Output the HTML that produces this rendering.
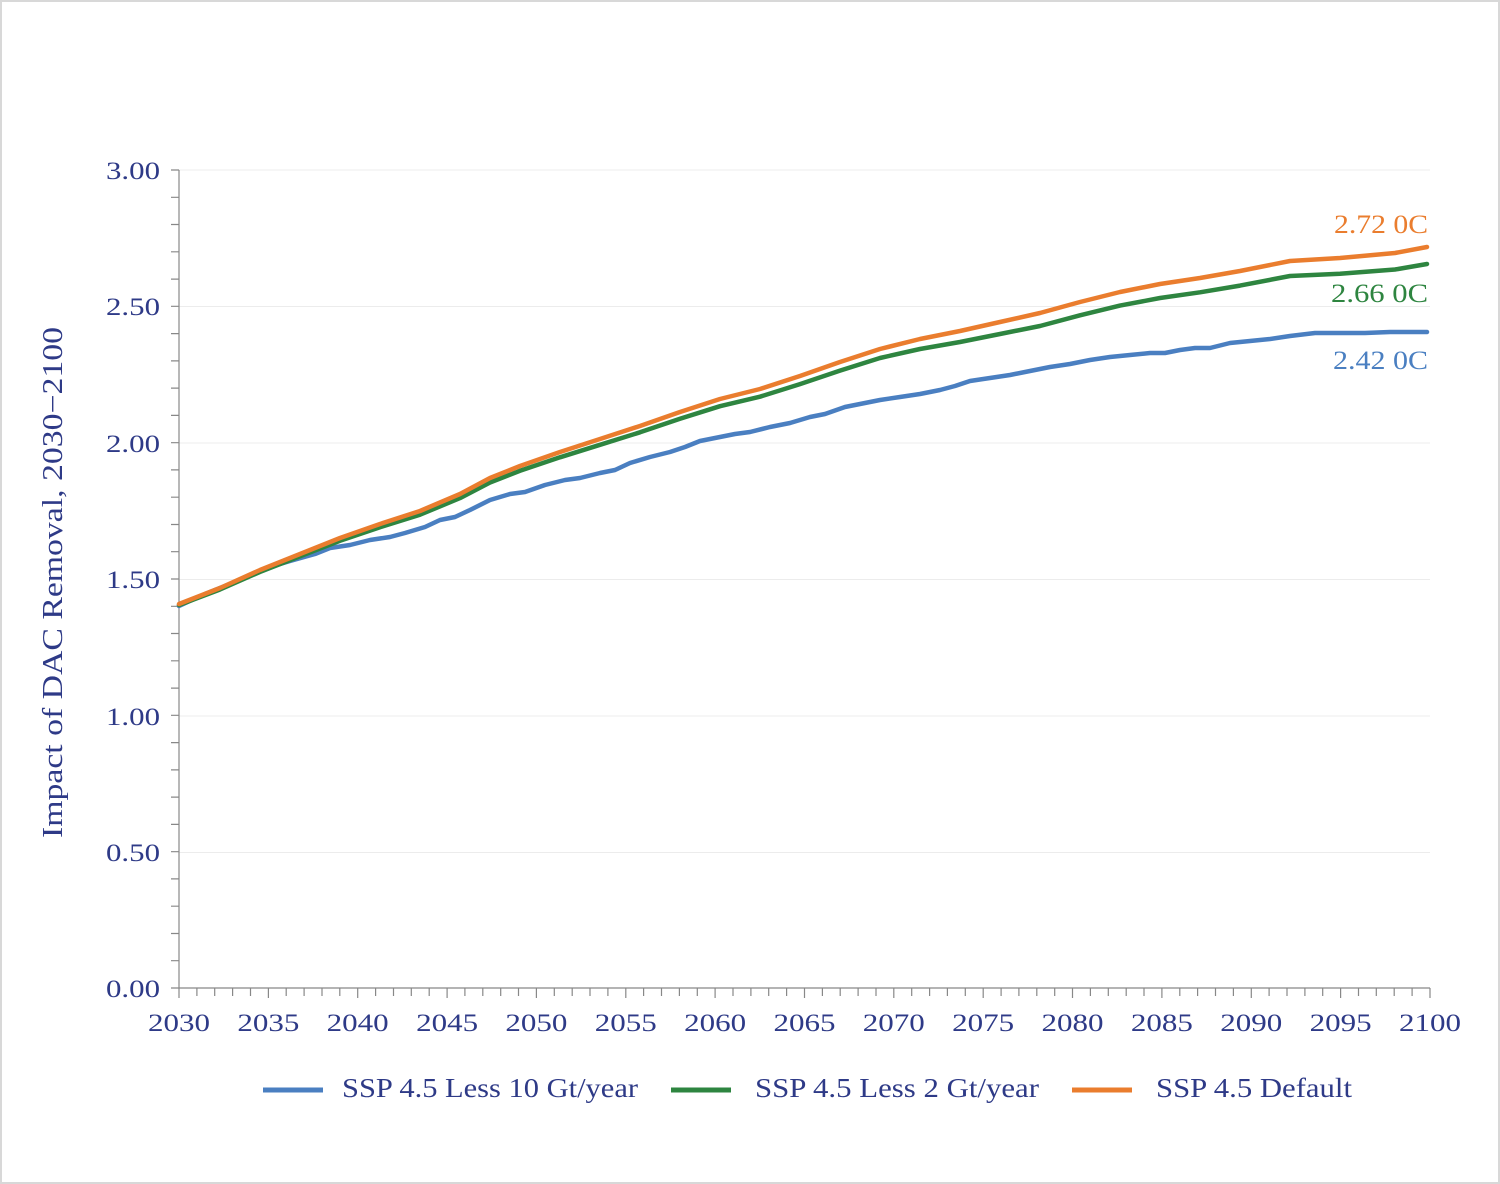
<!DOCTYPE html>
<html><head><meta charset="utf-8"><style>
html,body{margin:0;padding:0;background:#fff}
svg{display:block}
text{font-family:"Liberation Serif",serif}
</style></head><body>
<svg width="1500" height="1184" viewBox="0 0 1500 1184" xmlns="http://www.w3.org/2000/svg">
<rect x="1" y="1" width="1498" height="1182" fill="#fff" stroke="#d8d8d8" stroke-width="2"/>
<g stroke="#ececec" stroke-width="1">
<line x1="179" y1="170" x2="1430" y2="170"/><line x1="179" y1="306.5" x2="1430" y2="306.5"/>
<line x1="179" y1="443" x2="1430" y2="443"/><line x1="179" y1="579.5" x2="1430" y2="579.5"/>
<line x1="179" y1="716" x2="1430" y2="716"/><line x1="179" y1="852.5" x2="1430" y2="852.5"/>
</g>
<g stroke="#888" stroke-width="1.2" fill="none">
<path d="M179 170V988H1430"/>
<path d="M171 170h8M171 197.3h8M171 224.5h8M171 251.8h8M171 279.1h8M171 306.3h8M171 333.6h8M171 360.9h8M171 388.1h8M171 415.4h8M171 442.7h8M171 469.9h8M171 497.2h8M171 524.5h8M171 551.7h8M171 579h8M171 606.3h8M171 633.5h8M171 660.8h8M171 688.1h8M171 715.3h8M171 742.6h8M171 769.9h8M171 797.1h8M171 824.4h8M171 851.7h8M171 878.9h8M171 906.2h8M171 933.5h8M171 960.7h8M171 988h8"/>
<path d="M196.9 988v8M214.7 988v8M232.6 988v8M250.5 988v8M286.2 988v8M304.1 988v8M322 988v8M339.8 988v8M375.6 988v8M393.5 988v8M411.3 988v8M429.2 988v8M464.9 988v8M482.8 988v8M500.7 988v8M518.5 988v8M554.3 988v8M572.2 988v8M590 988v8M607.9 988v8M643.6 988v8M661.5 988v8M679.4 988v8M697.3 988v8M733 988v8M750.9 988v8M768.7 988v8M786.6 988v8M822.4 988v8M840.2 988v8M858.1 988v8M876 988v8M911.7 988v8M929.6 988v8M947.4 988v8M965.3 988v8M1001.1 988v8M1018.9 988v8M1036.8 988v8M1054.7 988v8M1090.4 988v8M1108.3 988v8M1126.2 988v8M1144 988v8M1179.8 988v8M1197.6 988v8M1215.5 988v8M1233.4 988v8M1269.1 988v8M1287 988v8M1304.9 988v8M1322.7 988v8M1358.5 988v8M1376.3 988v8M1394.2 988v8M1412.1 988v8"/>
<path d="M179 988v10M268.4 988v10M357.7 988v10M447.1 988v10M536.4 988v10M625.8 988v10M715.1 988v10M804.5 988v10M893.8 988v10M983.2 988v10M1072.5 988v10M1161.9 988v10M1251.3 988v10M1340.6 988v10M1430 988v10"/>
</g>
<g fill="#2e3a87" font-size="25" text-anchor="end">
<text x="160" y="179" textLength="54" lengthAdjust="spacingAndGlyphs">3.00</text><text x="160" y="315" textLength="54" lengthAdjust="spacingAndGlyphs">2.50</text><text x="160" y="452" textLength="54" lengthAdjust="spacingAndGlyphs">2.00</text>
<text x="160" y="588" textLength="54" lengthAdjust="spacingAndGlyphs">1.50</text><text x="160" y="725" textLength="54" lengthAdjust="spacingAndGlyphs">1.00</text><text x="160" y="861" textLength="54" lengthAdjust="spacingAndGlyphs">0.50</text><text x="160" y="997" textLength="54" lengthAdjust="spacingAndGlyphs">0.00</text>
</g>
<g fill="#2e3a87" font-size="25">
<text x="148" y="1031" textLength="62" lengthAdjust="spacingAndGlyphs">2030</text>
<text x="237.4" y="1031" textLength="62" lengthAdjust="spacingAndGlyphs">2035</text>
<text x="326.7" y="1031" textLength="62" lengthAdjust="spacingAndGlyphs">2040</text>
<text x="416.1" y="1031" textLength="62" lengthAdjust="spacingAndGlyphs">2045</text>
<text x="505.4" y="1031" textLength="62" lengthAdjust="spacingAndGlyphs">2050</text>
<text x="594.8" y="1031" textLength="62" lengthAdjust="spacingAndGlyphs">2055</text>
<text x="684.1" y="1031" textLength="62" lengthAdjust="spacingAndGlyphs">2060</text>
<text x="773.5" y="1031" textLength="62" lengthAdjust="spacingAndGlyphs">2065</text>
<text x="862.8" y="1031" textLength="62" lengthAdjust="spacingAndGlyphs">2070</text>
<text x="952.2" y="1031" textLength="62" lengthAdjust="spacingAndGlyphs">2075</text>
<text x="1041.5" y="1031" textLength="62" lengthAdjust="spacingAndGlyphs">2080</text>
<text x="1130.9" y="1031" textLength="62" lengthAdjust="spacingAndGlyphs">2085</text>
<text x="1220.3" y="1031" textLength="62" lengthAdjust="spacingAndGlyphs">2090</text>
<text x="1309.6" y="1031" textLength="62" lengthAdjust="spacingAndGlyphs">2095</text>
<text x="1399" y="1031" textLength="62" lengthAdjust="spacingAndGlyphs">2100</text>
</g>
<text transform="translate(62,838) rotate(-90)" fill="#2e3a87" font-size="28" textLength="511" lengthAdjust="spacingAndGlyphs">Impact of DAC Removal, 2030−2100</text>
<g fill="none" stroke-width="4.5" stroke-linejoin="round" stroke-linecap="round">
<polyline stroke="#4a7fc1" points="179,606 205,594 240,580 270,567 290,561 315,554 330,548 350,545 370,540 390,537 405,533 425,527 440,520 455,517 470,510 490,500 510,494 525,492 545,485 565,480 580,478 600,473 615,470 630,463 650,457 670,452 685,447 700,441 720,437 735,434 750,432 770,427 790,423 810,417 825,414 845,407 860,404 880,400 900,397 920,394 940,390 955,386 970,381 990,378 1010,375 1030,371 1050,367 1070,364 1090,360 1110,357 1130,355 1150,353 1165,353 1180,350 1195,348 1210,348 1230,343 1250,341 1270,339 1290,336 1315,333 1340,333 1365,333 1390,332 1427,332"/>
<polyline stroke="#2e8540" points="179,605 220,589.5 260,571.9 300,556.3 340,540.8 380,527.2 420,514.7 460,498.1 490,482.5 520,470.8 560,457.3 600,444.8 640,432.3 680,418.8 720,406.2 760,396.7 800,384.1 840,370.6 880,358 920,349 960,342 1000,334 1040,326 1080,315.3 1120,305.6 1160,298 1200,292.3 1240,285.6 1290,276 1340,273.7 1395,269.5 1427,264"/>
<polyline stroke="#ea7d2e" points="179,604 220,588 260,570 300,554 340,538 380,524 420,511 460,494 490,478 520,466 560,452 600,439 640,426 680,412 720,399 760,389 800,376 840,362 880,349 920,339 960,331 1000,322 1040,313 1080,302 1120,292 1160,284 1200,278 1240,271 1290,261 1340,258 1395,253 1427,247"/>
</g>
<g font-size="26">
<text x="1334" y="233" fill="#ea7d2e" textLength="94" lengthAdjust="spacingAndGlyphs">2.72 0C</text>
<text x="1331" y="302" fill="#2e8540" textLength="97" lengthAdjust="spacingAndGlyphs">2.66 0C</text>
<text x="1333" y="369" fill="#4a7fc1" textLength="95" lengthAdjust="spacingAndGlyphs">2.42 0C</text>
</g>
<g stroke-width="5">
<line x1="263" y1="1090" x2="323" y2="1090" stroke="#4a7fc1"/>
<line x1="671" y1="1090" x2="731" y2="1090" stroke="#2e8540"/>
<line x1="1072" y1="1090" x2="1132" y2="1090" stroke="#ea7d2e"/>
</g>
<g fill="#2e3a87" font-size="27">
<text x="342" y="1097" textLength="296" lengthAdjust="spacingAndGlyphs">SSP 4.5 Less 10 Gt/year</text>
<text x="755" y="1097" textLength="284" lengthAdjust="spacingAndGlyphs">SSP 4.5 Less 2 Gt/year</text>
<text x="1156" y="1097" textLength="196" lengthAdjust="spacingAndGlyphs">SSP 4.5 Default</text>
</g>
</svg>
</body></html>
